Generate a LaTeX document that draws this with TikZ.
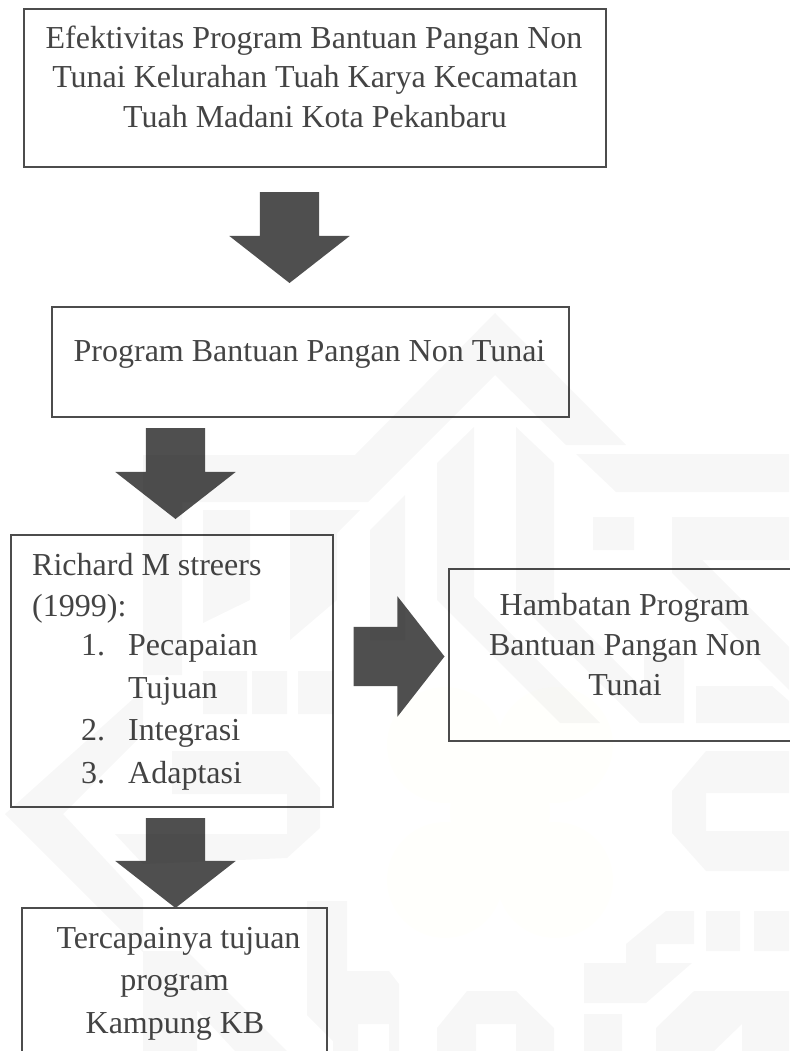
\documentclass[tikz,border=0pt]{standalone}
\usepackage{fontspec}
\setmainfont{Liberation Serif}
\usetikzlibrary{shapes.arrows}
\definecolor{ink}{HTML}{444444}
\definecolor{boxline}{HTML}{4C4C4C}
\definecolor{arrowfill}{HTML}{4F4F4F}
\definecolor{ornament}{HTML}{FFFFFC}
\tikzset{
  x=1pt,y=-1pt,
  flowbox/.style={draw=boxline,line width=2pt,fill=none,inner sep=0pt,outer sep=0pt,anchor=north west},
  linetext/.style={text=ink,font=\fontsize{32}{39.5}\selectfont,inner sep=0pt,anchor=base},
  itemtext/.style={text=ink,font=\fontsize{32}{39.5}\selectfont,inner sep=0pt,anchor=base west},
  blockarrow/.style={shape=single arrow,fill=arrowfill,draw=none,inner xsep=0pt,inner ysep=29.5pt,outer sep=0pt,single arrow head indent=0pt,single arrow head extend=30.5pt,single arrow tip angle=104,minimum width=120pt,anchor=tip},
  watermark/.style={fill=black,fill opacity=.03,draw=none},
}
\begin{document}
\begin{tikzpicture}
\useasboundingbox (0,0) rectangle (789,1051);
% faint ornament
\fill[ornament] (445,745) circle (58pt) (555,745) circle (58pt) (445,880) circle (58pt) (555,880) circle (58pt) (500,812) circle (50pt);
% boxes
\node[flowbox,minimum width=582pt,minimum height=158pt] (b1) at (24,9) {};
\node[flowbox,minimum width=517pt,minimum height=110pt] (b2) at (52,307) {};
\node[flowbox,minimum width=322pt,minimum height=272pt] (b3) at (11,535) {};
\node[flowbox,minimum width=360pt,minimum height=172pt] (b4) at (449,569) {};
\node[flowbox,minimum width=305pt,minimum height=160pt] (b5) at (22,908) {};
% texts
\node[linetext] (t1a) at (314,49) {Efektivitas Program Bantuan Pangan Non};
\node[linetext] (t1b) at (315,88) {Tunai Kelurahan Tuah Karya Kecamatan};
\node[linetext] (t1c) at (315,128) {Tuah Madani Kota Pekanbaru};
\node[linetext] (t2) at (309.5,361) {Program Bantuan Pangan Non Tunai};
\node[itemtext] (t3a) at (32,575) {Richard M streers};
\node[itemtext] (t3b) at (32,616) {(1999):};
\node[itemtext] (n1) at (81,655) {1.};
\node[itemtext] (i1) at (128,655) {Pecapaian};
\node[itemtext] (i1b) at (128,698) {Tujuan};
\node[itemtext] (n2) at (81,740) {2.};
\node[itemtext] (i2) at (128,740) {Integrasi};
\node[itemtext] (n3) at (81,783) {3.};
\node[itemtext] (i3) at (128,783) {Adaptasi};
\node[linetext] (t4a) at (624.5,615) {Hambatan Program};
\node[linetext] (t4b) at (625,655) {Bantuan Pangan Non};
\node[linetext] (t4c) at (625,695) {Tunai};
\node[linetext] (t5a) at (178.5,948) {Tercapainya tujuan};
\node[linetext] (t5b) at (174.5,990) {program};
\node[linetext] (t5c) at (175,1033) {Kampung KB};
% block arrows
\node[blockarrow,minimum height=91pt,rotate=-90] (a1) at (289.5,283) {};
\node[blockarrow,minimum height=91pt,rotate=-90] (a2) at (175.5,519) {};
\node[blockarrow,minimum height=90pt,rotate=-90] (a3) at (175.5,908) {};
\node[blockarrow,minimum height=91pt] (a4) at (444.5,656.5) {};
% watermark
\path[watermark]
  % chevron and band
  (495,313) -- (355,455) -- (143,455) -- (143,675) -- (182,675) -- (182,502) -- (368,502) -- (495,375) -- (566,445) -- (626,445) -- cycle
  (576,454) -- (789,454) -- (789,492) -- (616,492) -- cycle
  % columns under the band
  (203,510) -- (250,510) -- (250,600) -- (203,623) -- cycle
  (290,510) -- (360,510) -- (337,533) -- (337,600) -- (290,640) -- cycle
  (370,530) -- (405,495) -- (405,640) -- (370,640) -- cycle
  (203,671) rectangle (247,714)
  (252,671) rectangle (287,714)
  (298,671) rectangle (333,714)
  % u shape
  (437,463) -- (474,427) -- (474,597) -- (600,723) -- (560,723) -- (437,600) -- cycle
  (516,427) -- (554,463) -- (554,600) -- (644,690) -- (644,656) -- (684,656) -- (684,723) -- (640,723) -- (516,600) -- cycle
  % right side
  (593,517) rectangle (634,550)
  (672,517) -- (789,517) -- (789,560) -- (702,560) -- (789,647) -- (789,690) -- (672,573) -- cycle
  (696,686) -- (772,686) -- (789,701) -- (789,723) -- (696,723) -- cycle
  (706,751) -- (789,751) -- (789,793) -- (706,793) -- (706,831) -- (789,831) -- (789,871) -- (706,871) -- (672,833) -- (672,791) -- cycle
  % left C
  (143,690) -- (5,814) -- (143,952) -- (143,900) -- (63,814) -- (143,734) -- cycle
  (172,751) -- (287,751) -- (320,788) -- (320,828) -- (287,858) -- (143,864) -- (115,834) -- (287,834) -- (287,794) -- (172,794) -- cycle
  % lower left
  (143,951) -- (187,951) -- (287,1051) -- (235,1051) -- (197,1010) -- (197,1051) -- (143,1051) -- cycle
  (307,901) -- (347,901) -- (347,971) -- (389,971) -- (399,984) -- (399,1051) -- (389,1051) -- (389,1024) -- (358,1024) -- (358,1051) -- (333,1051) -- (333,1041) -- (307,1015) -- cycle
  % bottom
  (437,1028) -- (467,991) -- (516,991) -- (554,1028) -- (554,1051) -- (516,1051) -- (516,1024) -- (476,1024) -- (476,1051) -- (437,1051) -- cycle
  (584,1014) rectangle (622,1051)
  (626,944) -- (666,911) -- (694,911) -- (694,944) -- (656,944) -- (656,963) -- (692,963) -- (646,1003) -- (584,1003) -- (584,963) -- (626,963) -- cycle
  (706,911) rectangle (740,951)
  (754,911) rectangle (789,951)
  (656,1028) -- (694,991) -- (789,991) -- (789,1051) -- (742,1051) -- (742,1024) -- (714,1051) -- (656,1051) -- cycle;
\end{tikzpicture}
\end{document}
